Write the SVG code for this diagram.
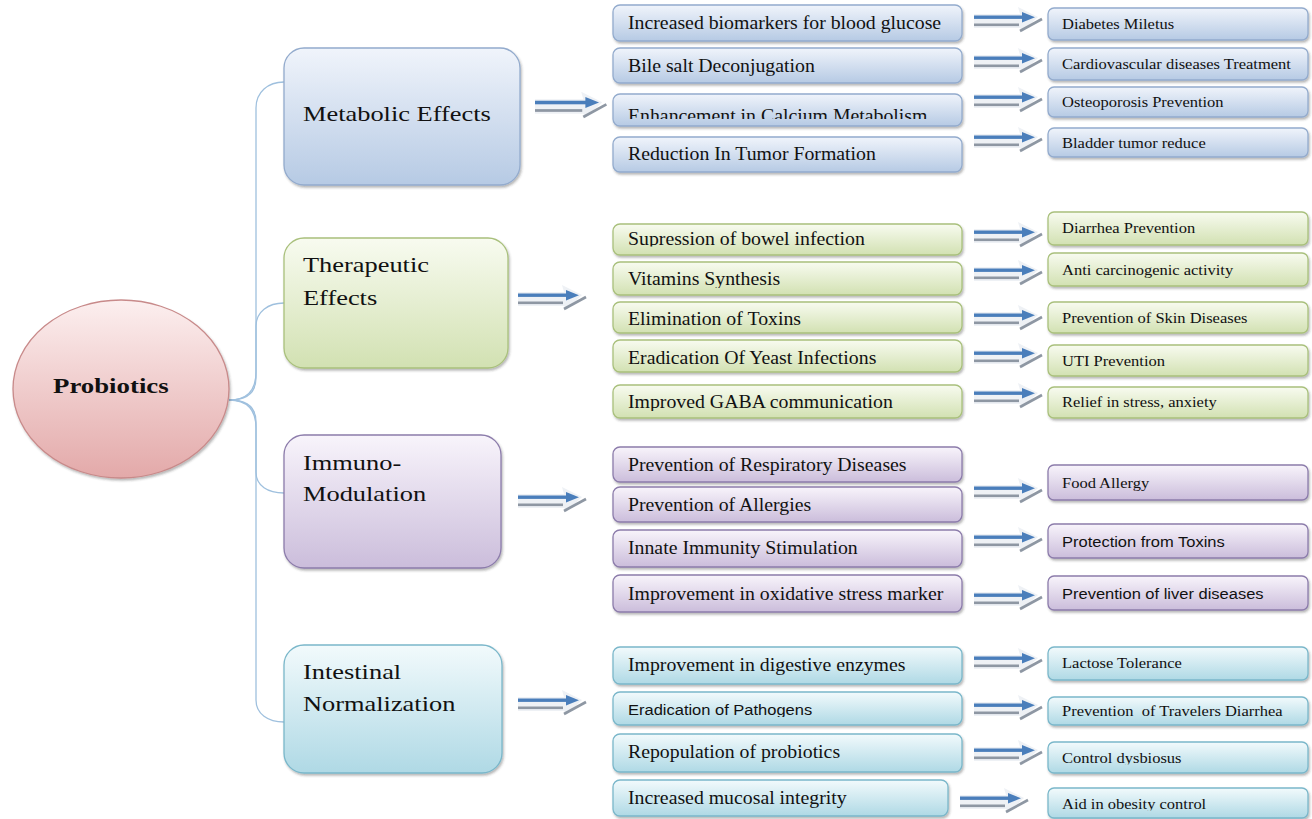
<svg xmlns="http://www.w3.org/2000/svg" xmlns:xlink="http://www.w3.org/1999/xlink" width="1312" height="819" viewBox="0 0 1312 819">
<defs>
<style>
.t{font-family:"Liberation Serif","Times New Roman",serif;fill:#111}
.big{font-size:22px}
.mid{font-size:18px}
.sm{font-size:15px}
.sans{font-family:"Liberation Sans",Arial,sans-serif;fill:#111}
.blue{fill:url(#gB);stroke:#93abcd;stroke-width:1.3}
.green{fill:url(#gG);stroke:#a9c07c;stroke-width:1.3}
.purple{fill:url(#gP);stroke:#8c7cab;stroke-width:1.3}
.cyan{fill:url(#gC);stroke:#7ab7ca;stroke-width:1.3}
.bx{filter:url(#sh)}
.con{fill:none;stroke:#9fc0de;stroke-width:1.3}
</style>
<linearGradient id="gB" x1="0" y1="0" x2="0" y2="1"><stop offset="0" stop-color="#f0f4fb"/><stop offset="1" stop-color="#b6cae4"/></linearGradient>
<linearGradient id="gG" x1="0" y1="0" x2="0" y2="1"><stop offset="0" stop-color="#f8fbf0"/><stop offset="1" stop-color="#d2e1b2"/></linearGradient>
<linearGradient id="gP" x1="0" y1="0" x2="0" y2="1"><stop offset="0" stop-color="#f8f4fb"/><stop offset="1" stop-color="#cbbddb"/></linearGradient>
<linearGradient id="gC" x1="0" y1="0" x2="0" y2="1"><stop offset="0" stop-color="#f2fafc"/><stop offset="1" stop-color="#afd9e5"/></linearGradient>
<linearGradient id="gR" x1="0" y1="0" x2="0" y2="1"><stop offset="0" stop-color="#fcefef"/><stop offset="1" stop-color="#e3a9a9"/></linearGradient>
<filter id="sh" x="-5%" y="-10%" width="115%" height="130%"><feDropShadow dx="1.2" dy="2" stdDeviation="1.2" flood-color="#333" flood-opacity="0.35"/></filter>
<symbol id="arr" overflow="visible">
<polygon points="0,3 46,3 44,-4 64,6 48,21 46,17 0,17" fill="#eef1f5"/>
<rect x="0" y="4.5" width="51" height="3.4" fill="#4a7ebb"/>
<polygon points="48,1 61,6.2 48,11.4" fill="#4a7ebb"/>
<rect x="0" y="12.5" width="45" height="2.6" fill="#8e97a3"/>
<line x1="46" y1="20" x2="68" y2="8" stroke="#8e97a3" stroke-width="2.6"/>
</symbol>
<clipPath id="c1"><rect x="600" y="90" width="370" height="29"/></clipPath>
<clipPath id="c2"><rect x="600" y="220" width="370" height="26.5"/></clipPath>
<clipPath id="c3"><rect x="600" y="260" width="370" height="28"/></clipPath>
<clipPath id="c4"><rect x="600" y="380" width="370" height="31"/></clipPath>
<clipPath id="c5"><rect x="600" y="690" width="370" height="27"/></clipPath>
<clipPath id="c6"><rect x="1040" y="740" width="270" height="24.5"/></clipPath>
<clipPath id="c7"><rect x="1040" y="785" width="270" height="25.5"/></clipPath>
</defs>
<rect width="1312" height="819" fill="#fff"/>

<g id="connectors">
<path class="con" d="M229,400 C246,400 256,392 256,372 L256,108 C256,92 268,82 284,82"/>
<path class="con" d="M229,400 C246,400 256,394 256,378 L256,326 C256,312 268,303 284,303"/>
<path class="con" d="M229,400 C246,400 256,406 256,422 L256,472 C256,486 268,493 284,493"/>
<path class="con" d="M229,400 C246,400 256,408 256,428 L256,700 C256,714 268,722 284,722"/>
<use xlink:href="#arr" transform="translate(535 96) scale(1.05)"/>
<use xlink:href="#arr" transform="translate(518 289)"/>
<use xlink:href="#arr" transform="translate(518 491)"/>
<use xlink:href="#arr" transform="translate(518 694)"/>
<use xlink:href="#arr" x="974" y="11"/>
<use xlink:href="#arr" x="974" y="52"/>
<use xlink:href="#arr" x="974" y="91"/>
<use xlink:href="#arr" x="974" y="131"/>
<use xlink:href="#arr" x="974" y="226"/>
<use xlink:href="#arr" x="974" y="264"/>
<use xlink:href="#arr" x="974" y="309"/>
<use xlink:href="#arr" x="974" y="347"/>
<use xlink:href="#arr" x="974" y="387"/>
<use xlink:href="#arr" x="974" y="482"/>
<use xlink:href="#arr" x="974" y="531"/>
<use xlink:href="#arr" x="974" y="589"/>
<use xlink:href="#arr" x="974" y="652"/>
<use xlink:href="#arr" x="974" y="699"/>
<use xlink:href="#arr" x="974" y="744"/>
<use xlink:href="#arr" x="960" y="792"/>
</g>

<g id="probiotics">
<ellipse cx="121" cy="389" rx="108" ry="89" fill="url(#gR)" stroke="#c88a8a" stroke-width="1.3" class="bx"/>
<text class="t big" font-weight="bold" transform="translate(53 393) scale(1.22 1)">Probiotics</text>
</g>

<g id="metabolic">
<rect class="blue bx" x="284" y="48" width="236" height="137" rx="20"/>
<text class="t big" transform="translate(303 121) scale(1.2 1)">Metabolic Effects</text>
</g>
<g id="therapeutic">
<rect class="green bx" x="284" y="238" width="224" height="130" rx="20"/>
<text class="t big" transform="translate(303 272) scale(1.2 1)">Therapeutic</text>
<text class="t big" transform="translate(303 305) scale(1.2 1)">Effects</text>
</g>
<g id="immuno">
<rect class="purple bx" x="284" y="435" width="217" height="133" rx="20"/>
<text class="t big" transform="translate(303 470) scale(1.2 1)">Immuno-</text>
<text class="t big" transform="translate(303 501) scale(1.2 1)">Modulation</text>
</g>
<g id="intestinal">
<rect class="cyan bx" x="284" y="645" width="218" height="128" rx="20"/>
<text class="t big" transform="translate(303 679) scale(1.2 1)">Intestinal</text>
<text class="t big" transform="translate(303 711) scale(1.2 1)">Normalization</text>
</g>

<g id="m1"><rect class="blue bx" x="613" y="5" width="349" height="36" rx="7"/><text class="t mid" transform="translate(628 29) scale(1.1 1)">Increased biomarkers for blood glucose</text></g>
<g id="m2"><rect class="blue bx" x="613" y="48" width="349" height="35" rx="7"/><text class="t mid" transform="translate(628 72) scale(1.1 1)">Bile salt Deconjugation</text></g>
<g id="m3"><rect class="blue bx" x="613" y="94" width="349" height="32" rx="7"/><g clip-path="url(#c1)"><text class="t mid" transform="translate(628 121.5) scale(1.1 1)">Enhancement in Calcium Metabolism</text></g></g>
<g id="m4"><rect class="blue bx" x="613" y="137" width="349" height="35" rx="7"/><text class="t mid" transform="translate(628 160) scale(1.1 1)">Reduction In Tumor Formation</text></g>

<g id="r1"><rect class="blue bx" x="1048" y="8" width="260" height="32" rx="6"/><text class="t sm" transform="translate(1062 29) scale(1.1 1)">Diabetes Miletus</text></g>
<g id="r2"><rect class="blue bx" x="1048" y="48" width="260" height="32" rx="6"/><text class="t sm" transform="translate(1062 69) scale(1.1 1)">Cardiovascular diseases Treatment</text></g>
<g id="r3"><rect class="blue bx" x="1048" y="87" width="260" height="30" rx="6"/><text class="t sm" transform="translate(1062 107) scale(1.1 1)">Osteoporosis Prevention</text></g>
<g id="r4"><rect class="blue bx" x="1048" y="128" width="260" height="29" rx="6"/><text class="t sm" transform="translate(1062 148) scale(1.1 1)">Bladder tumor reduce</text></g>

<g id="t1"><rect class="green bx" x="613" y="224" width="349" height="31" rx="7"/><g clip-path="url(#c2)"><text class="t mid" transform="translate(628 244.5) scale(1.1 1)">Supression of bowel infection</text></g></g>
<g id="t2"><rect class="green bx" x="613" y="262" width="349" height="33" rx="7"/><g clip-path="url(#c3)"><text class="t mid" transform="translate(628 285) scale(1.1 1)">Vitamins Synthesis</text></g></g>
<g id="t3"><rect class="green bx" x="613" y="302" width="349" height="31" rx="7"/><text class="t mid" transform="translate(628 325) scale(1.1 1)">Elimination of Toxins</text></g>
<g id="t4"><rect class="green bx" x="613" y="340" width="349" height="32" rx="7"/><text class="t mid" transform="translate(628 364) scale(1.1 1)">Eradication Of Yeast Infections</text></g>
<g id="t5"><rect class="green bx" x="613" y="385" width="349" height="33" rx="7"/><g clip-path="url(#c4)"><text class="t mid" transform="translate(628 408) scale(1.1 1)">Improved GABA communication</text></g></g>

<g id="tr1"><rect class="green bx" x="1048" y="212" width="260" height="33" rx="6"/><text class="t sm" transform="translate(1062 233) scale(1.1 1)">Diarrhea Prevention</text></g>
<g id="tr2"><rect class="green bx" x="1048" y="253" width="260" height="33" rx="6"/><text class="t sm" transform="translate(1062 275) scale(1.1 1)">Anti carcinogenic activity</text></g>
<g id="tr3"><rect class="green bx" x="1048" y="302" width="260" height="31" rx="6"/><text class="t sm" transform="translate(1062 323) scale(1.1 1)">Prevention of Skin Diseases</text></g>
<g id="tr4"><rect class="green bx" x="1048" y="345" width="260" height="31" rx="6"/><text class="t sm" transform="translate(1062 366) scale(1.1 1)">UTI Prevention</text></g>
<g id="tr5"><rect class="green bx" x="1048" y="387" width="260" height="31" rx="6"/><text class="t sm" transform="translate(1062 407) scale(1.1 1)">Relief in stress, anxiety</text></g>

<g id="i1"><rect class="purple bx" x="613" y="447" width="349" height="35" rx="7"/><text class="t mid" transform="translate(628 471) scale(1.1 1)">Prevention of Respiratory Diseases</text></g>
<g id="i2"><rect class="purple bx" x="613" y="487" width="349" height="35" rx="7"/><text class="t mid" transform="translate(628 511) scale(1.1 1)">Prevention of Allergies</text></g>
<g id="i3"><rect class="purple bx" x="613" y="530" width="349" height="37" rx="7"/><text class="t mid" transform="translate(628 554) scale(1.1 1)">Innate Immunity Stimulation</text></g>
<g id="i4"><rect class="purple bx" x="613" y="575" width="349" height="37" rx="7"/><text class="t mid" transform="translate(628 600) scale(1.1 1)">Improvement in oxidative stress marker</text></g>

<g id="ir1"><rect class="purple bx" x="1048" y="465" width="260" height="35" rx="6"/><text class="t sm" transform="translate(1062 488) scale(1.1 1)">Food Allergy</text></g>
<g id="ir2"><rect class="purple bx" x="1048" y="524" width="260" height="34" rx="6"/><text class="sans" font-size="15" transform="translate(1062 547) scale(1.1 1)">Protection from Toxins</text></g>
<g id="ir3"><rect class="purple bx" x="1048" y="576" width="260" height="34" rx="6"/><text class="sans" font-size="15" transform="translate(1062 599) scale(1.1 1)">Prevention of liver diseases</text></g>

<g id="n1"><rect class="cyan bx" x="613" y="647" width="349" height="37" rx="7"/><text class="t mid" transform="translate(628 671) scale(1.1 1)">Improvement in digestive enzymes</text></g>
<g id="n2"><rect class="cyan bx" x="613" y="692" width="349" height="33" rx="7"/><g clip-path="url(#c5)"><text class="sans" font-size="15" transform="translate(628 715) scale(1.1 1)">Eradication of Pathogens</text></g></g>
<g id="n3"><rect class="cyan bx" x="613" y="734" width="349" height="38" rx="7"/><text class="t mid" transform="translate(628 758) scale(1.1 1)">Repopulation of probiotics</text></g>
<g id="n4"><rect class="cyan bx" x="613" y="780" width="335" height="36" rx="7"/><text class="t mid" transform="translate(628 804) scale(1.1 1)">Increased mucosal integrity</text></g>

<g id="nr1"><rect class="cyan bx" x="1048" y="647" width="260" height="33" rx="6"/><text class="t sm" transform="translate(1062 668) scale(1.1 1)">Lactose Tolerance</text></g>
<g id="nr2"><rect class="cyan bx" x="1048" y="697" width="260" height="28" rx="6"/><text class="t sm" style="white-space:pre" transform="translate(1062 716) scale(1.1 1)">Prevention  of Travelers Diarrhea</text></g>
<g id="nr3"><rect class="cyan bx" x="1048" y="742" width="260" height="31" rx="6"/><g clip-path="url(#c6)"><text class="t sm" transform="translate(1062 762.5) scale(1.1 1)">Control dysbiosus</text></g></g>
<g id="nr4"><rect class="cyan bx" x="1048" y="788" width="260" height="30" rx="6"/><g clip-path="url(#c7)"><text class="t sm" transform="translate(1062 808.5) scale(1.1 1)">Aid in obesity control</text></g></g>
</svg>
